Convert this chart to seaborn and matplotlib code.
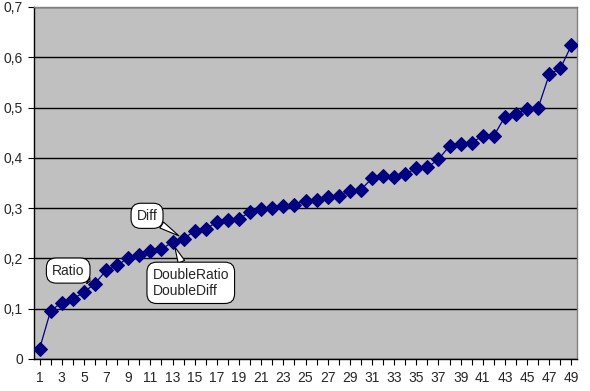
import matplotlib
matplotlib.use("Agg")
import matplotlib.pyplot as plt
import seaborn as sns
import pandas as pd
from matplotlib.ticker import FuncFormatter, MultipleLocator

categories = list(range(1, 50))
values = [0.020, 0.096, 0.112, 0.119, 0.133, 0.150, 0.176, 0.186, 0.201, 0.206,
          0.215, 0.218, 0.233, 0.239, 0.255, 0.258, 0.273, 0.277, 0.279, 0.292,
          0.299, 0.300, 0.304, 0.307, 0.315, 0.317, 0.323, 0.325, 0.335, 0.337,
          0.359, 0.363, 0.362, 0.368, 0.379, 0.381, 0.397, 0.424, 0.427, 0.430,
          0.444, 0.444, 0.482, 0.488, 0.497, 0.500, 0.566, 0.578, 0.624]
callout_labels = ["Ratio", "Diff", "DoubleRatio\nDoubleDiff"]
callout_points = [6, 14, 13]

df = pd.DataFrame({"cat": categories, "val": values})

sns.set_style("white")
plt.rcParams['font.family'] = ['Liberation Sans', 'DejaVu Sans']

fig = plt.figure(figsize=(5.9, 3.91), dpi=100)
fig.patch.set_facecolor("white")
ax = fig.add_axes([34/590, 32/391, 543/590, 352/391])
ax.set_facecolor("#C0C0C0")

sns.lineplot(data=df, x="cat", y="val", ax=ax, color="#000080", lw=0.9,
             marker="D", markersize=6.8, markeredgecolor="#000080",
             markerfacecolor="#000080", zorder=3)

ax.set_xlim(0.5, 49.5)
ax.set_ylim(0, 0.7)
ax.yaxis.set_major_locator(MultipleLocator(0.1))
ax.yaxis.set_major_formatter(FuncFormatter(
    lambda v, p: "0" if abs(v) < 1e-9 else f"{v:.1f}".replace(".", ",")))
ax.set_xticks(categories)
ax.set_xticklabels([str(c) if c % 2 == 1 else "" for c in categories])
ax.grid(axis="y", color="black", lw=1)
ax.set_axisbelow(True)
ax.set_xlabel("")
ax.set_ylabel("")
for s in ["top", "right"]:
    ax.spines[s].set_color("#808080")
    ax.spines[s].set_linewidth(1)
for s in ["left", "bottom"]:
    ax.spines[s].set_color("black")
    ax.spines[s].set_linewidth(1)
ax.tick_params(axis="x", direction="out", length=4, width=0.8, color="black",
               labelsize=10, pad=5, bottom=True)
ax.tick_params(axis="y", direction="out", length=4, width=0.8, color="black",
               labelsize=10, pad=4, left=True)

offsets = [(-43, 13), (-47, 23), (-20, -41)]
for lab, pt, off in zip(callout_labels, callout_points, offsets):
    ax.annotate(lab, xy=(pt, values[pt - 1]), xytext=off, textcoords="offset pixels",
                fontsize=10, ha="left", va="center", zorder=4,
                bbox=dict(boxstyle="round,pad=0.4,rounding_size=0.7", fc="white",
                          ec="black", lw=0.8),
                arrowprops=dict(arrowstyle="wedge,tail_width=0.5", fc="white",
                                ec="black", lw=0.8, shrinkA=0, shrinkB=4))

fig.savefig("out.png", dpi=100)
